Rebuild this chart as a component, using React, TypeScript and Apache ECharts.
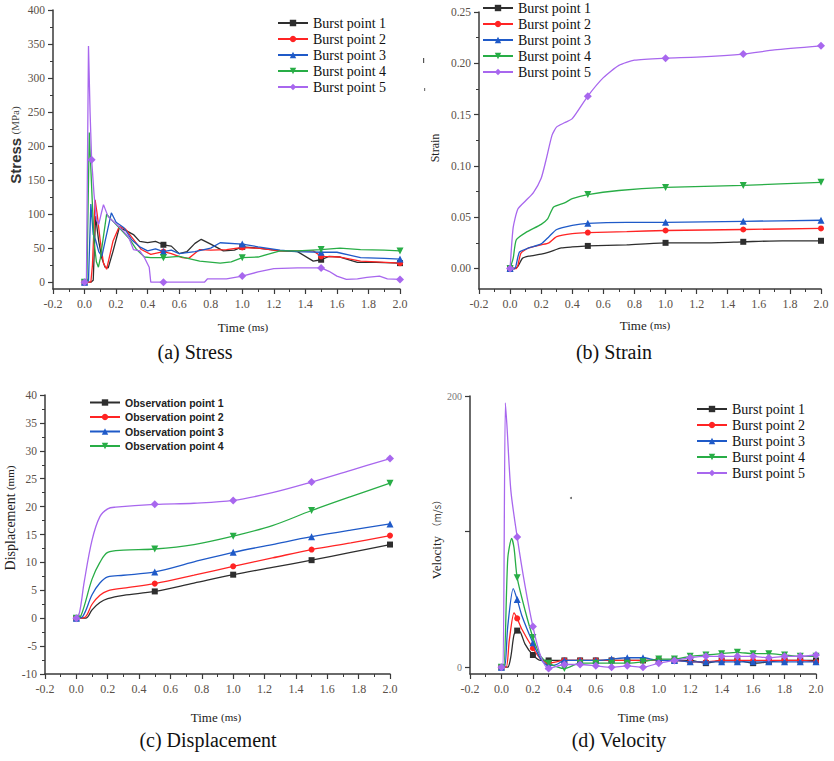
import React, { useEffect, useRef } from 'react';
import * as echarts from 'echarts';

// ---- names ----
const burstNames = ['Burst point 1', 'Burst point 2', 'Burst point 3', 'Burst point 4', 'Burst point 5'];
const observationNames = ['Observation point 1', 'Observation point 2', 'Observation point 3', 'Observation point 4', 'Observation point 5'];

// ---- tick values ----
const stressTicks = [0, 50, 100, 150, 200, 250, 300, 350, 400];
const stressMinorTicks = [25, 75, 125, 175, 225, 275, 325, 375];
const strainTicks = [0, 0.05, 0.1, 0.15, 0.2, 0.25];
const strainMinorTicks = [0.025, 0.075, 0.125, 0.175, 0.225];
const velocityTicks = [0, 100, 200];
const velocityLabels = [0, 200];

// ---- marker positions (time, ms) ----
const sparseMarks = [0, 0.5, 1.0, 1.5, 2.0];
const velocityMarks = [0, 0.1, 0.2, 0.3, 0.4, 0.5, 0.6, 0.7, 0.8, 0.9, 1.0, 1.1, 1.2, 1.3, 1.4, 1.5, 1.6, 1.7, 1.8, 1.9, 2.0];

// ---- (a) stress, MPa ----
const stress1 = [[0, 0], [0.04, 0], [0.055, 3], [0.07, 97], [0.09, 60], [0.11, 35], [0.13, 22], [0.15, 21], [0.18, 45], [0.22, 80], [0.27, 75], [0.31, 70], [0.35, 60], [0.4, 58], [0.45, 60], [0.5, 55], [0.55, 53], [0.6, 42], [0.65, 45], [0.7, 57], [0.74, 63], [0.8, 56], [0.88, 46], [0.95, 47], [1.0, 52], [1.1, 50], [1.24, 46], [1.35, 45], [1.45, 31], [1.5, 33], [1.55, 38], [1.62, 37], [1.73, 29], [1.85, 29], [2.0, 28]];
const stress2 = [[0, 0], [0.04, 0], [0.05, 25], [0.067, 121], [0.08, 100], [0.1, 60], [0.12, 28], [0.14, 19], [0.18, 60], [0.22, 82], [0.26, 78], [0.3, 66], [0.36, 48], [0.42, 41], [0.5, 45], [0.55, 42], [0.62, 36], [0.66, 35], [0.73, 48], [0.8, 47], [0.9, 48], [1.0, 51], [1.1, 50], [1.24, 46], [1.35, 46], [1.45, 46], [1.5, 38], [1.62, 37], [1.75, 31], [1.85, 30], [2.0, 28]];
const stress3 = [[0, 0], [0.025, 2], [0.04, 115], [0.055, 70], [0.07, 62], [0.09, 45], [0.11, 38], [0.13, 60], [0.17, 102], [0.2, 88], [0.25, 80], [0.3, 62], [0.35, 52], [0.4, 46], [0.45, 49], [0.5, 45], [0.55, 47], [0.6, 42], [0.7, 45], [0.8, 50], [0.86, 58], [1.0, 56], [1.1, 52], [1.24, 47], [1.35, 45], [1.5, 44], [1.6, 44], [1.75, 36], [1.9, 35], [2.0, 34]];
const stress4 = [[0, 0], [0.015, 3], [0.03, 220], [0.045, 140], [0.06, 60], [0.075, 30], [0.088, 22], [0.1, 35], [0.14, 100], [0.17, 92], [0.22, 80], [0.28, 65], [0.33, 48], [0.38, 37], [0.42, 36], [0.5, 36], [0.6, 38], [0.73, 31], [0.86, 28], [0.93, 30], [1.0, 36], [1.1, 37], [1.24, 46], [1.35, 46], [1.5, 48], [1.62, 50], [1.75, 48], [1.9, 47], [2.0, 46]];
const stress5 = [[0, 0], [0.012, 3], [0.025, 347], [0.035, 250], [0.045, 180], [0.06, 130], [0.075, 92], [0.09, 85], [0.105, 100], [0.12, 114], [0.15, 96], [0.2, 86], [0.25, 74], [0.28, 66], [0.31, 48], [0.35, 46], [0.38, 36], [0.41, 22], [0.42, 0], [0.5, 0], [0.76, 0], [0.78, 5], [0.9, 5], [1.0, 9], [1.1, 15], [1.2, 20], [1.35, 21], [1.5, 21], [1.55, 16], [1.6, 9], [1.66, 4], [1.73, 5], [1.79, 7], [1.87, 9], [1.92, 5], [2.0, 4]];

// ---- (b) strain ----
const strain1 = [[0, 0], [0.03, 0], [0.05, 0.002], [0.08, 0.01], [0.12, 0.012], [0.2, 0.014], [0.25, 0.016], [0.33, 0.02], [0.4, 0.021], [0.5, 0.022], [0.75, 0.023], [1.0, 0.025], [1.25, 0.025], [1.5, 0.026], [1.75, 0.027], [2.0, 0.027]];
const strain2 = [[0, 0], [0.04, 0], [0.05, 0.003], [0.07, 0.015], [0.12, 0.02], [0.2, 0.023], [0.25, 0.025], [0.3, 0.031], [0.4, 0.034], [0.5, 0.035], [0.75, 0.036], [1.0, 0.037], [1.5, 0.038], [2.0, 0.039]];
const strain3 = [[0, 0], [0.03, 0], [0.06, 0.016], [0.12, 0.02], [0.2, 0.024], [0.25, 0.031], [0.3, 0.038], [0.4, 0.042], [0.5, 0.044], [0.75, 0.045], [1.0, 0.045], [1.5, 0.046], [2.0, 0.047]];
const strain4 = [[0, 0], [0.02, 0.01], [0.04, 0.028], [0.1, 0.035], [0.2, 0.043], [0.24, 0.048], [0.28, 0.06], [0.35, 0.064], [0.4, 0.068], [0.5, 0.072], [0.7, 0.076], [1.0, 0.079], [1.5, 0.081], [2.0, 0.084]];
const strain5 = [[0, 0], [0.02, 0.04], [0.05, 0.058], [0.1, 0.066], [0.15, 0.074], [0.2, 0.088], [0.23, 0.105], [0.27, 0.13], [0.3, 0.138], [0.35, 0.142], [0.4, 0.146], [0.5, 0.168], [0.6, 0.186], [0.7, 0.198], [0.8, 0.203], [1.0, 0.205], [1.2, 0.206], [1.5, 0.209], [1.7, 0.213], [2.0, 0.217]];

// ---- (c) displacement, mm ----
const disp1 = [[0, 0], [0.06, 0], [0.1, 1.5], [0.15, 2.8], [0.2, 3.5], [0.3, 4.1], [0.5, 4.8], [0.75, 6.3], [1.0, 7.8], [1.25, 9.1], [1.5, 10.4], [1.75, 11.8], [2.0, 13.2]];
const disp2 = [[0, 0], [0.05, 0.1], [0.1, 2.5], [0.15, 4.1], [0.2, 4.9], [0.3, 5.4], [0.5, 6.2], [0.75, 7.7], [1.0, 9.3], [1.25, 10.8], [1.5, 12.3], [1.75, 13.5], [2.0, 14.8]];
const disp3 = [[0, 0], [0.04, 0.3], [0.1, 4.2], [0.15, 6.3], [0.2, 7.4], [0.3, 7.7], [0.5, 8.3], [0.75, 10.1], [1.0, 11.8], [1.25, 13.2], [1.5, 14.6], [1.75, 15.8], [2.0, 16.9]];
const disp4 = [[0, 0], [0.03, 0.5], [0.1, 7], [0.15, 10], [0.2, 11.8], [0.3, 12.2], [0.5, 12.4], [0.75, 13.2], [1.0, 14.7], [1.25, 16.6], [1.5, 19.3], [1.75, 21.8], [2.0, 24.2]];
const disp5 = [[0, 0], [0.02, 1], [0.05, 6.5], [0.1, 14], [0.15, 18.2], [0.2, 19.6], [0.25, 19.9], [0.5, 20.4], [0.75, 20.6], [1.0, 21.1], [1.25, 22.5], [1.5, 24.4], [1.75, 26.5], [2.0, 28.6]];

// ---- (d) velocity, m/s ----
const vel1 = [[0, 0], [0.04, 0], [0.06, 8], [0.08, 24], [0.1, 27], [0.12, 26], [0.15, 17], [0.2, 9], [0.25, 5], [0.3, 5], [0.4, 5], [0.5, 5], [0.6, 5], [0.7, 5], [0.8, 5], [0.9, 5], [1.0, 5], [1.1, 5], [1.2, 5], [1.3, 3], [1.4, 5], [1.5, 5], [1.6, 3], [1.7, 4], [1.8, 5], [1.9, 5], [2.0, 5]];
const vel2 = [[0, 0], [0.03, 0], [0.05, 20], [0.08, 40], [0.1, 36], [0.13, 28], [0.2, 14], [0.25, 6], [0.3, 3], [0.4, 5], [0.5, 5], [0.6, 5], [0.7, 5], [0.8, 5], [0.9, 5], [1.0, 5], [1.1, 5], [1.2, 4], [1.3, 4], [1.4, 5], [1.5, 5], [1.6, 5], [1.7, 5], [1.8, 5], [1.9, 5], [2.0, 4]];
const vel3 = [[0, 0], [0.02, 0], [0.04, 30], [0.075, 58], [0.1, 50], [0.13, 38], [0.2, 18], [0.25, 6], [0.3, 1], [0.35, 2], [0.4, 5], [0.5, 5], [0.6, 5], [0.7, 6], [0.8, 7], [0.9, 7], [1.0, 5], [1.1, 5], [1.2, 4], [1.3, 4], [1.4, 4], [1.5, 4], [1.6, 4], [1.7, 4], [1.8, 4], [1.9, 4], [2.0, 4]];
const vel4 = [[0, 0], [0.015, 0], [0.04, 80], [0.065, 95], [0.08, 88], [0.1, 66], [0.15, 42], [0.2, 22], [0.25, 8], [0.3, 3], [0.4, -1], [0.5, 3], [0.6, 3], [0.7, 3], [0.8, 3], [0.9, 4], [1.0, 6], [1.1, 6], [1.2, 8], [1.3, 9], [1.4, 10], [1.5, 11], [1.6, 10], [1.7, 10], [1.8, 9], [1.9, 8], [2.0, 8]];
const vel5 = [[0, 0], [0.01, 0], [0.025, 195], [0.035, 178], [0.06, 130], [0.1, 96], [0.15, 60], [0.2, 30], [0.25, 8], [0.3, -1], [0.4, 2], [0.5, 2], [0.6, 1], [0.7, 0], [0.8, 1], [0.9, 0], [1.0, 3], [1.1, 5], [1.2, 7], [1.3, 8], [1.4, 8], [1.5, 8], [1.6, 8], [1.7, 7], [1.8, 8], [1.9, 8], [2.0, 9]];

// ---- styling ----
const palette = ['#2e2e2e', '#ff2424', '#1f5ac8', '#28ad46', '#a867ee'];
const markerShapes = ['rect', 'circle', 'triangle', 'path://M0,0L10,0L5,8.66Z', 'diamond'];
const markerSizes = [6, 6, 7, 7, 8];
const SERIF = '"Liberation Serif", "Times New Roman", serif';
const SANS = '"Liberation Sans", Arial, sans-serif';
const AXIS_COLOR = '#3a3a3a';
const LABEL_COLOR = '#5a5048';

function withMarkers(points: number[][], marks: number[]) {
  return points.map(([t, v]) =>
    marks.some((m) => Math.abs(m - t) < 1e-6) ? { value: [t, v] } : { value: [t, v], symbol: 'none' }
  );
}

function makeSeries(name: string, points: number[][], marks: number[], idx: number, panel: number, smooth: number | boolean) {
  return {
    type: 'line',
    name,
    xAxisIndex: panel,
    yAxisIndex: panel,
    data: withMarkers(points, marks),
    symbol: markerShapes[idx],
    symbolSize: markerSizes[idx],
    showAllSymbol: true,
    smooth,
    lineStyle: { color: palette[idx], width: 1.3 },
    itemStyle: { color: palette[idx] },
    emphasis: { disabled: true },
    z: 2 + idx,
  };
}

function timeAxis(gridIndex: number) {
  return {
    type: 'value',
    gridIndex,
    min: -0.2,
    max: 2.0,
    interval: 0.2,
    axisLine: { show: true, onZero: false, lineStyle: { color: AXIS_COLOR, width: 1.5 } },
    axisTick: { show: true, length: 5, lineStyle: { color: AXIS_COLOR, width: 1.2 } },
    minorTick: { show: true, splitNumber: 2, length: 3, lineStyle: { color: AXIS_COLOR, width: 1 } },
    splitLine: { show: false },
    axisLabel: {
      margin: 9,
      color: LABEL_COLOR,
      fontFamily: SERIF,
      fontSize: 12,
      formatter: (v: number) => v.toFixed(1),
    },
  };
}

const axisBase = {
  type: 'value',
  axisLine: { show: true, onZero: false, lineStyle: { color: AXIS_COLOR, width: 1.5 } },
  splitLine: { show: false },
};

// second y axis on the same grid edge, carrying only the short in-between ticks
function minorOverlay(gridIndex: number, min: number, max: number, values: number[]) {
  return {
    type: 'value',
    gridIndex,
    min,
    max,
    position: 'left',
    axisLine: { show: false, onZero: false },
    axisLabel: { show: false },
    splitLine: { show: false },
    axisTick: { show: true, length: 3, customValues: values, lineStyle: { color: AXIS_COLOR, width: 1 } },
  };
}

function rotatedTitle(x: number, y: number, text: string, rich: any) {
  return {
    type: 'text',
    x,
    y,
    rotation: Math.PI / 2,
    style: { text, rich, align: 'center', verticalAlign: 'middle', fill: '#222' },
  };
}

function flatText(x: number, y: number, text: string, rich: any) {
  return {
    type: 'text',
    x,
    y,
    style: { text, rich, align: 'center', verticalAlign: 'middle', fill: '#222' },
  };
}

function legendAt(names: string[], left: number, top: number, font: any, gap: number) {
  return {
    data: names,
    orient: 'vertical',
    left,
    top,
    padding: 0,
    itemWidth: 30,
    itemHeight: 8,
    itemGap: gap,
    selectedMode: false,
    textStyle: font,
  };
}

export default function App() {
  const ref = useRef<HTMLDivElement>(null);

  useEffect(() => {
    if (!ref.current) return;
    const chart = echarts.init(ref.current, undefined, { renderer: 'svg' });

    const timeRich = {
      t: { fontFamily: SERIF, fontSize: 13, fill: '#222' },
      u: { fontFamily: SERIF, fontSize: 11, fill: '#222' },
    };
    const captionStyle = { c: { fontFamily: SERIF, fontSize: 20, fill: '#111' } };

    const burstLegendFont = { fontFamily: SERIF, fontSize: 14, color: '#111' };
    const obsLegendFont = { fontFamily: SANS, fontSize: 10.5, fontWeight: 'bold', color: '#222' };

    const option: any = {
      animation: false,
      backgroundColor: '#ffffff',
      grid: [
        { left: 53, top: 10, width: 347, height: 279 },
        { left: 479, top: 12, width: 342, height: 277 },
        { left: 45, top: 395, width: 345, height: 279 },
        { left: 470, top: 396, width: 346, height: 278 },
      ],
      xAxis: [timeAxis(0), timeAxis(1), timeAxis(2), timeAxis(3)],
      yAxis: [
        {
          ...axisBase,
          gridIndex: 0,
          min: -10,
          max: 400,
          axisTick: { show: true, length: 5, customValues: stressTicks, lineStyle: { color: AXIS_COLOR, width: 1.2 } },
          axisLabel: { customValues: stressTicks, margin: 8, color: LABEL_COLOR, fontFamily: SERIF, fontSize: 11.5 },
        },
        {
          ...axisBase,
          gridIndex: 1,
          min: -0.02,
          max: 0.25,
          axisTick: { show: true, length: 5, customValues: strainTicks, lineStyle: { color: AXIS_COLOR, width: 1.2 } },
          axisLabel: {
            customValues: strainTicks,
            margin: 8,
            color: LABEL_COLOR,
            fontFamily: SERIF,
            fontSize: 11.5,
            formatter: (v: number) => v.toFixed(2),
          },
        },
        {
          ...axisBase,
          gridIndex: 2,
          min: -10,
          max: 40,
          interval: 5,
          axisTick: { show: true, length: 5, lineStyle: { color: AXIS_COLOR, width: 1.2 } },
          minorTick: { show: true, splitNumber: 2, length: 3, lineStyle: { color: AXIS_COLOR, width: 1 } },
          axisLabel: { margin: 8, color: LABEL_COLOR, fontFamily: SERIF, fontSize: 11.5 },
        },
        {
          ...axisBase,
          gridIndex: 3,
          min: -5,
          max: 200,
          axisTick: { show: true, length: 5, customValues: velocityTicks, lineStyle: { color: AXIS_COLOR, width: 1.2 } },
          axisLabel: { customValues: velocityLabels, margin: 8, color: '#777', fontFamily: SERIF, fontSize: 10 },
        },
        minorOverlay(0, -10, 400, stressMinorTicks),
        minorOverlay(1, -0.02, 0.25, strainMinorTicks),
      ],
      legend: [
        legendAt(burstNames, 277, 16, burstLegendFont, 2),
        legendAt(burstNames, 482, 1, burstLegendFont, 2),
        legendAt(observationNames.slice(0, 4), 89, 397, obsLegendFont, 3.5),
        legendAt(burstNames, 696, 402, burstLegendFont, 2),
      ],
      series: [
        makeSeries(burstNames[0], stress1, sparseMarks, 0, 0, false),
        makeSeries(burstNames[1], stress2, sparseMarks, 1, 0, false),
        makeSeries(burstNames[2], stress3, sparseMarks, 2, 0, false),
        makeSeries(burstNames[3], stress4, sparseMarks, 3, 0, false),
        makeSeries(burstNames[4], stress5, [...sparseMarks, 0.045], 4, 0, false),

        makeSeries(burstNames[0], strain1, sparseMarks, 0, 1, 0.2),
        makeSeries(burstNames[1], strain2, sparseMarks, 1, 1, 0.2),
        makeSeries(burstNames[2], strain3, sparseMarks, 2, 1, 0.2),
        makeSeries(burstNames[3], strain4, sparseMarks, 3, 1, 0.2),
        makeSeries(burstNames[4], strain5, sparseMarks, 4, 1, 0.2),

        makeSeries(observationNames[0], disp1, sparseMarks, 0, 2, 0.35),
        makeSeries(observationNames[1], disp2, sparseMarks, 1, 2, 0.35),
        makeSeries(observationNames[2], disp3, sparseMarks, 2, 2, 0.35),
        makeSeries(observationNames[3], disp4, sparseMarks, 3, 2, 0.35),
        makeSeries(observationNames[4], disp5, sparseMarks, 4, 2, 0.35),

        makeSeries(burstNames[0], vel1, velocityMarks, 0, 3, 0.25),
        makeSeries(burstNames[1], vel2, velocityMarks, 1, 3, 0.25),
        makeSeries(burstNames[2], vel3, velocityMarks, 2, 3, 0.25),
        makeSeries(burstNames[3], vel4, velocityMarks, 3, 3, 0.25),
        makeSeries(burstNames[4], vel5, velocityMarks, 4, 3, 0.25),
      ],
      graphic: [
        // y-axis titles
        rotatedTitle(15, 145, '{a|Stress} {b|(MPa)}', {
          a: { fontFamily: SANS, fontSize: 15, fontWeight: 'bold', fill: '#333' },
          b: { fontFamily: SERIF, fontSize: 11, fill: '#444' },
        }),
        rotatedTitle(435, 148, '{a|Strain}', { a: { fontFamily: SERIF, fontSize: 12, fill: '#222' } }),
        rotatedTitle(10, 518, '{a|Displacement} {b|(mm)}', {
          a: { fontFamily: SERIF, fontSize: 14, fill: '#222' },
          b: { fontFamily: SERIF, fontSize: 11, fill: '#222' },
        }),
        rotatedTitle(436, 537, '{a|Velocity} {b|（m/s）}', {
          a: { fontFamily: SERIF, fontSize: 13, fill: '#222' },
          b: { fontFamily: '"Noto Sans CJK SC", sans-serif', fontSize: 10, fill: '#444' },
        }),
        // x-axis titles
        flatText(243, 327, '{t|Time} {u|(ms)}', timeRich),
        flatText(645, 325, '{t|Time} {u|(ms)}', timeRich),
        flatText(216, 717, '{t|Time} {u|(ms)}', timeRich),
        flatText(643, 717, '{t|Time} {u|(ms)}', timeRich),
        // panel captions
        flatText(195, 352, '{c|(a) Stress}', captionStyle),
        flatText(614, 352, '{c|(b) Strain}', captionStyle),
        flatText(208, 740, '{c|(c) Displacement}', captionStyle),
        flatText(619, 740, '{c|(d) Velocity}', captionStyle),
        // small stray marks beside the strain panel and inside the velocity panel
        { type: 'rect', shape: { x: 423, y: 58, width: 1.2, height: 5 }, style: { fill: '#555' } },
        { type: 'rect', shape: { x: 424, y: 88, width: 1.2, height: 3 }, style: { fill: '#777' } },
        { type: 'circle', shape: { cx: 571, cy: 498, r: 1 }, style: { fill: '#666' } },
      ],
    };

    chart.setOption(option);
    return () => chart.dispose();
  }, []);

  return (
    <div
      ref={ref}
      style={{ position: 'fixed', left: 0, top: 0, width: 834, height: 761, background: '#fff' }}
    />
  );
}
